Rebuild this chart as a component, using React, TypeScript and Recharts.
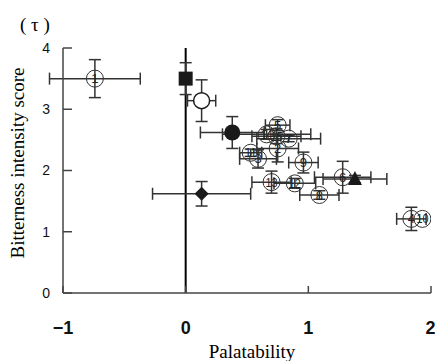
import React from 'react';
import { ScatterChart, Scatter, XAxis, YAxis, ErrorBar, ReferenceLine } from 'recharts';

// circled test samples
const sampleLabels = ['1', '2', '3', '4', '5', '6', '7', '8', '9', '10', '11', '12', '13', '14', '15'];
const samplePalatability = [-0.74, 0.75, 0.59, 1.84, 0.75, 1.28, 0.84, 1.09, 0.96, 1.93, 0.53, 0.89, 0.7, 0.66, 0.74];
const sampleBitterness = [3.5, 2.36, 2.19, 1.21, 2.74, 1.89, 2.52, 1.6, 2.13, 1.21, 2.29, 1.79, 1.81, 2.59, 2.56];
const samplePalatabilitySD = [0.37, 0.17, 0.15, 0.12, 0.1, 0.23, 0.26, 0.16, 0.12, null, 0.09, 0.17, 0.16, 0.36, 0.2];
const sampleBitternessSD = [0.31, 0.22, 0.15, 0.19, 0.09, 0.26, 0.05, 0.07, 0.17, null, 0.06, 0.08, 0.18, 0.08, 0.12];

// reference standards (filled / open markers)
const standardNames = ['square', 'openCircle', 'filledCircle', 'diamond', 'triangle'];
const standardPalatability = [0, 0.13, 0.38, 0.13, 1.38];
const standardBitterness = [3.5, 3.14, 2.62, 1.62, 1.86];
const standardPalatabilitySD = [0, 0.115, 0.26, 0.4, 0.26];
const standardBitternessSD = [0.26, 0.34, 0.26, 0.2, 0.06];

const xTicks = [-1, 0, 1, 2];
const yTicks = [0, 1, 2, 3, 4];

const samples = sampleLabels.map((label, i) => ({
  label,
  x: samplePalatability[i],
  y: sampleBitterness[i],
  ex: samplePalatabilitySD[i],
  ey: sampleBitternessSD[i],
}));

const standards = standardNames.map((name, i) => ({
  name,
  x: standardPalatability[i],
  y: standardBitterness[i],
  ex: standardPalatabilitySD[i],
  ey: standardBitternessSD[i],
}));

const ink = '#1a1a1a';

// number inside a thin circle, like the circled digits of the original
const CircledMark = (props: any) => {
  const { cx, cy, payload } = props;
  const wide = payload.label.length > 1;
  return (
    <g>
      <circle cx={cx} cy={cy} r={8.5} fill="none" stroke="#333" strokeWidth={1} />
      <text x={cx} y={cy + 4.5} textAnchor="middle" fontSize={13} fill="#222"
        fontFamily="'Liberation Sans', Arial"
        {...(wide ? { textLength: 12, lengthAdjust: 'spacingAndGlyphs' } : {})}>
        {payload.label}
      </text>
    </g>
  );
};

const shapes: Record<string, (p: any) => React.ReactElement> = {
  square: ({ cx, cy }) => <rect x={cx - 7} y={cy - 7} width={14} height={14} fill={ink} />,
  openCircle: ({ cx, cy }) => <circle cx={cx} cy={cy} r={8} fill="#fff" stroke={ink} strokeWidth={1.5} />,
  filledCircle: ({ cx, cy }) => <circle cx={cx} cy={cy} r={8} fill={ink} />,
  diamond: ({ cx, cy }) => (
    <polygon points={`${cx},${cy - 7} ${cx + 7},${cy} ${cx},${cy + 7} ${cx - 7},${cy}`} fill={ink} />
  ),
  triangle: ({ cx, cy }) => (
    <polygon points={`${cx},${cy - 8} ${cx + 7},${cy + 6} ${cx - 7},${cy + 6}`} fill={ink} />
  ),
};

const serif = "'Liberation Serif', 'Times New Roman', serif";

export default function App() {
  return (
    <div style={{ position: 'absolute', left: 0, top: 0, width: 435, height: 361, background: '#fff' }}>
      <ScatterChart width={435} height={361} margin={{ top: 48, right: 4, bottom: 0, left: 0 }}>
        <XAxis
          type="number"
          dataKey="x"
          domain={[-1, 2]}
          ticks={xTicks}
          allowDataOverflow
          height={68}
          stroke="#444"
          strokeWidth={1.5}
          tickSize={-7}
          tickMargin={35}
          tickFormatter={(v: number) => (v < 0 ? `−${Math.abs(v)}` : `${v}`)}
          tick={{ fontSize: 18, fontWeight: 'bold', fill: '#111', fontFamily: "'Liberation Sans', Arial" }}
        />
        <YAxis
          type="number"
          dataKey="y"
          domain={[0, 4]}
          ticks={yTicks}
          width={63}
          stroke="#444"
          strokeWidth={1.5}
          tickSize={-9}
          tickMargin={22}
          tick={{ fontSize: 14, fill: '#111', fontFamily: "'Liberation Sans', Arial" }}
        />
        <ReferenceLine x={0} stroke="#000" strokeWidth={2} />
        <Scatter data={samples} shape={CircledMark} isAnimationActive={false}>
          <ErrorBar dataKey="ex" direction="x" width={6} stroke="#333" strokeWidth={1.5} />
          <ErrorBar dataKey="ey" direction="y" width={6} stroke="#333" strokeWidth={1.5} />
        </Scatter>
        {standards.map((s) => (
          <Scatter key={s.name} data={[s]} shape={shapes[s.name]} isAnimationActive={false}>
            <ErrorBar dataKey="ex" direction="x" width={6} stroke="#333" strokeWidth={1.5} />
            <ErrorBar dataKey="ey" direction="y" width={6} stroke="#333" strokeWidth={1.5} />
          </Scatter>
        ))}
      </ScatterChart>
      <div style={{ position: 'absolute', left: 20, top: 13, fontFamily: serif, fontSize: 19, lineHeight: '24px' }}>
        ( τ )
      </div>
      <div
        style={{
          position: 'absolute', left: 18 - 125, top: 163 - 12, width: 250, textAlign: 'center',
          fontFamily: serif, fontSize: 19, lineHeight: '24px', transform: 'rotate(-90deg)', whiteSpace: 'nowrap',
        }}
      >
        Bitterness intensity score
      </div>
      <div
        style={{
          position: 'absolute', left: 252 - 80, top: 340, width: 160, textAlign: 'center',
          fontFamily: serif, fontSize: 19, lineHeight: '24px',
        }}
      >
        Palatability
      </div>
    </div>
  );
}
